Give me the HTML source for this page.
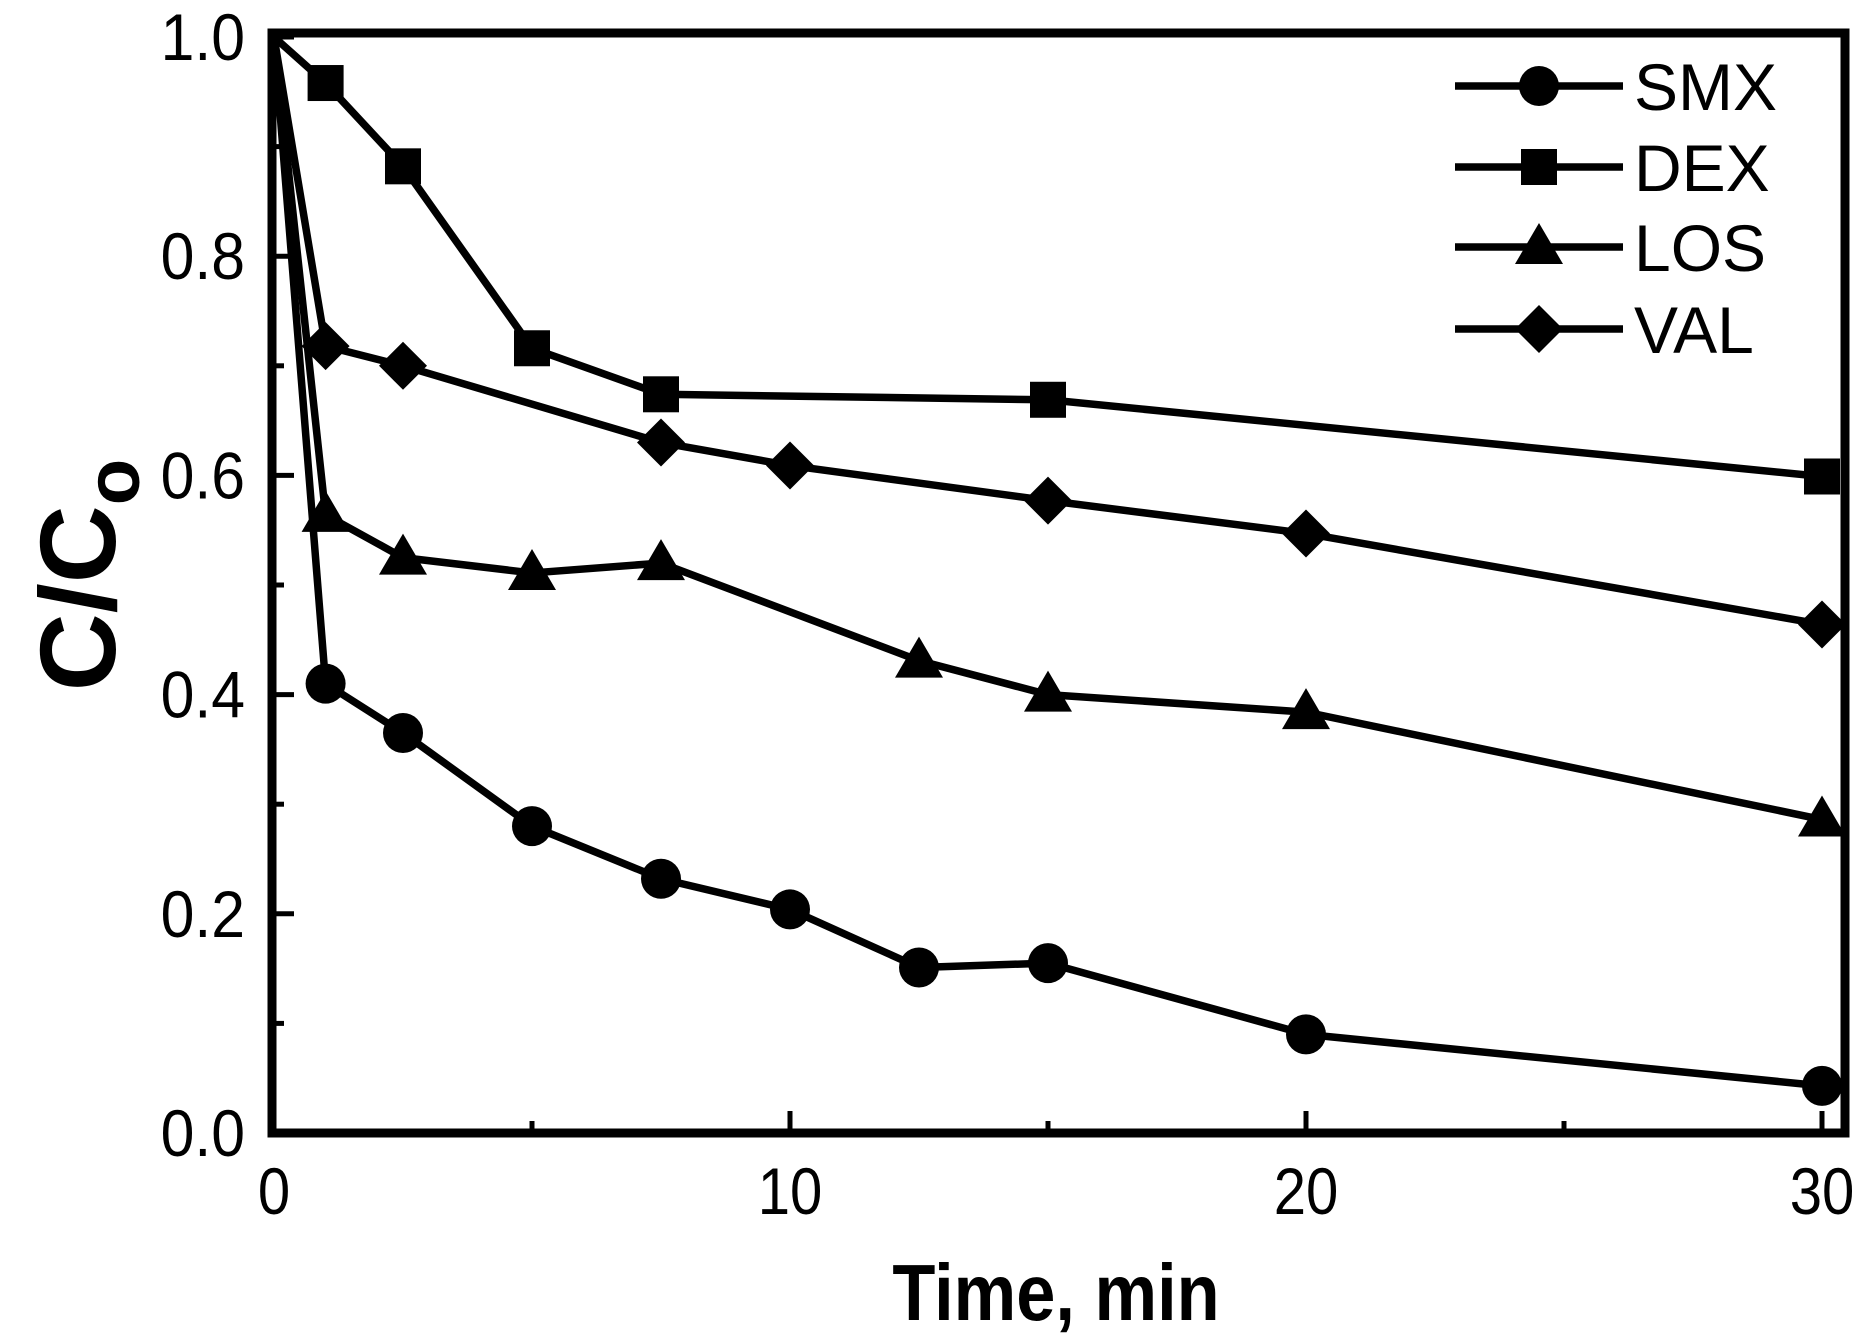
<!DOCTYPE html>
<html><head><meta charset="utf-8"><style>
html,body{margin:0;padding:0;background:#fff}
svg{display:block}
text{font-family:"Liberation Sans",Arial,sans-serif;fill:#000}
</style></head><body>
<svg id="s" width="1871" height="1342" viewBox="0 0 1871 1342" xmlns="http://www.w3.org/2000/svg">
<rect x="0" y="0" width="1871" height="1342" fill="#fff"/>
<g id="g"></g>
<text x="1056" y="1320" font-size="80" font-weight="bold" text-anchor="middle" transform="translate(1056 0) scale(0.88 1) translate(-1056 0)">Time, min</text>
<text transform="translate(115 575) rotate(-90)" font-size="108" font-weight="bold" text-anchor="middle">C/C<tspan font-size="76" dy="24">o</tspan></text>
</svg>
<script>
var g=document.getElementById('g'),NS='http://www.w3.org/2000/svg';
function X(t){return 274+51.6*t}
function Y(v){return 1133-1096*v}
function el(n,a,txt){var e=document.createElementNS(NS,n);for(var k in a)e.setAttribute(k,a[k]);if(txt!=null)e.textContent=txt;g.appendChild(e);return e}
el('rect',{x:272,y:33,width:1573,height:1100,fill:'none',stroke:'#000','stroke-width':9});
for(var i=0;i<=10;i++){var y=Y(i/10),L=(i%2==0)?22:12;el('line',{x1:272,y1:y,x2:272+L,y2:y,stroke:'#000','stroke-width':5});}
for(var i=0;i<=5;i++){var v=i*0.2;el('text',{x:245,y:Y(v)+23,'font-size':66,'text-anchor':'end',transform:'translate(245 0) scale(0.92 1) translate(-245 0)'},v.toFixed(1));}
for(var t=5;t<=30;t+=5){var x=X(t),L=(t%10==0)?22:12;el('line',{x1:x,y1:1133,x2:x,y2:1133-L,stroke:'#000','stroke-width':5});}
for(var t=0;t<=30;t+=10){el('text',{x:X(t),y:1214,'font-size':66,'text-anchor':'middle',transform:'translate('+X(t)+' 0) scale(0.88 1) translate('+(-X(t))+' 0)'},String(t));}
var S={
SMX:[[0,1],[1,0.41],[2.5,0.365],[5,0.28],[7.5,0.232],[10,0.204],[12.5,0.151],[15,0.155],[20,0.09],[30,0.043]],
DEX:[[0,1],[1,0.958],[2.5,0.882],[5,0.716],[7.5,0.674],[15,0.669],[30,0.599]],
LOS:[[0,1],[1,0.564],[2.5,0.525],[5,0.511],[7.5,0.52],[12.5,0.431],[15,0.4],[20,0.384],[30,0.286]],
VAL:[[0,1],[1,0.718],[2.5,0.7],[7.5,0.63],[10,0.609],[15,0.577],[20,0.547],[30,0.464]]};
function mark(k,x,y){
 if(k=='SMX')el('circle',{cx:x,cy:y,r:20});
 else if(k=='DEX')el('rect',{x:x-18,y:y-18,width:36,height:36});
 else if(k=='LOS')el('polygon',{points:(x)+','+(y-24)+' '+(x+24)+','+(y+17)+' '+(x-24)+','+(y+17)});
 else el('polygon',{points:(x)+','+(y-24)+' '+(x+24)+','+y+' '+x+','+(y+24)+' '+(x-24)+','+y});
}
for(var k in S){var p=S[k].map(function(d){return X(d[0])+','+Y(d[1])}).join(' ');
 el('polyline',{points:p,fill:'none',stroke:'#000','stroke-width':7.5,'stroke-linejoin':'round'});
 S[k].forEach(function(d,i){if(i>0)mark(k,X(d[0]),Y(d[1]));});}
var ry={SMX:86,DEX:167,LOS:247,VAL:329};
for(var k in ry){el('line',{x1:1455,y1:ry[k],x2:1623,y2:ry[k],stroke:'#000','stroke-width':7.5});mark(k,1539,ry[k]);
 el('text',{x:1634,y:ry[k]+24,'font-size':66},k);}
</script>
</body></html>
